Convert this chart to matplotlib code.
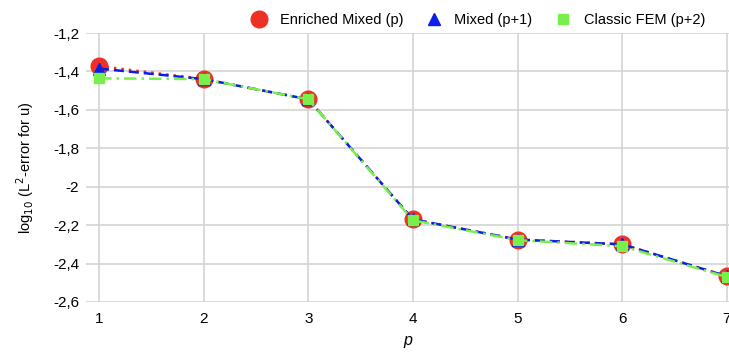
import matplotlib.pyplot as plt
from matplotlib.ticker import FuncFormatter

plt.rcParams['font.family'] = ['Liberation Sans', 'DejaVu Sans']

# Data
p = [1, 2, 3, 4, 5, 6, 7]
enriched_mixed = [-1.372, -1.440, -1.545, -2.170, -2.275, -2.300, -2.466]
mixed = [-1.385, -1.440, -1.545, -2.170, -2.275, -2.300, -2.466]
classic_fem = [-1.436, -1.440, -1.545, -2.175, -2.278, -2.310, -2.470]

fig = plt.figure(figsize=(7.29, 3.53), dpi=100)
ax = fig.add_axes([0.118, 0.1445, 0.882, 0.762])

ax.plot(p, enriched_mixed, color='#ee3124', linestyle=(0, (1, 2)), linewidth=1.8,
        marker='o', markersize=12, label='Enriched Mixed (p)', clip_on=False, zorder=3)
ax.plot(p, mixed, color='#0a1ee8', linestyle=(0, (4, 2)), linewidth=1.8,
        marker='^', markersize=8, label='Mixed (p+1)', clip_on=False, zorder=4)
ax.plot(p, classic_fem, color='#77f04c', linestyle=(0, (5, 2, 1, 2)), linewidth=1.8,
        marker='s', markersize=6.5, label='Classic FEM (p+2)', clip_on=False, zorder=5)

ax.set_xlim(0.876, 7.02)
ax.set_ylim(-2.6, -1.2)
ax.set_xticks(p)
ax.set_yticks([-2.6, -2.4, -2.2, -2.0, -1.8, -1.6, -1.4, -1.2])


def fmt(v, pos):
    s = ('%.1f' % v).rstrip('0').rstrip('.')
    return s.replace('.', ',')


ax.yaxis.set_major_formatter(FuncFormatter(fmt))
ax.grid(True, color='#d4d4d4', linewidth=1.2)
ax.set_axisbelow(True)
for s in ax.spines.values():
    s.set_visible(False)
ax.tick_params(axis='both', length=0, labelsize=11)
ax.tick_params(axis='x', pad=7)
ax.tick_params(axis='y', pad=5)

ax.set_xlabel('p', fontsize=11.5, style='italic', labelpad=5)
ax.set_ylabel('log$_{10}$ (L$^2$-error for u)', fontsize=10.5, labelpad=12)

fig.legend(loc='upper right', bbox_to_anchor=(0.985, 1.0), ncol=3, frameon=False,
           fontsize=10.5, handlelength=1.2, columnspacing=1.5, handletextpad=0.8)
leg = fig.legends[0]
for h in leg.legend_handles:
    h.set_linestyle('None')

fig.savefig('out.png', dpi=100)
